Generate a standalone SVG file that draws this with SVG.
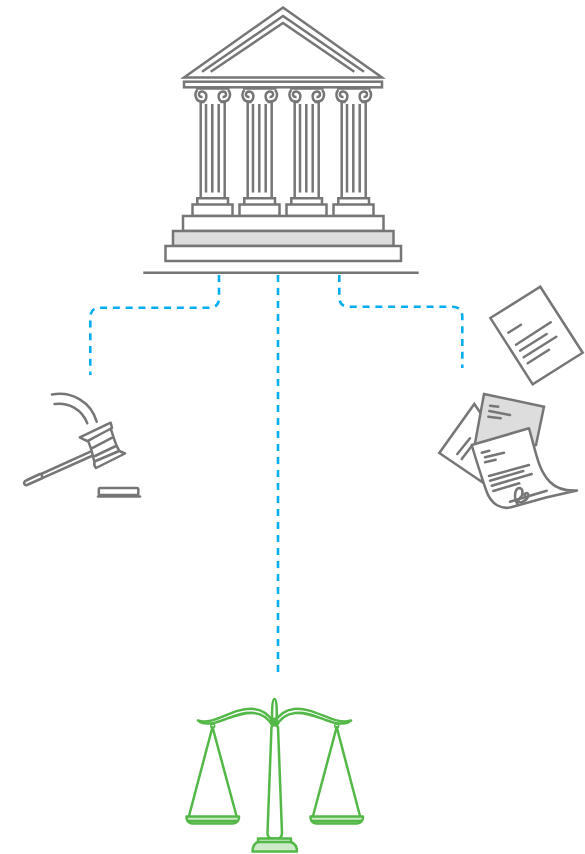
<svg xmlns="http://www.w3.org/2000/svg" xmlns:xlink="http://www.w3.org/1999/xlink" width="585" height="854" viewBox="0 0 585 854">
<style>
.g{fill:none;stroke:#767676;stroke-width:2.500;stroke-linejoin:miter}
.w{fill:#fff;stroke:#767676;stroke-width:2.500}
.s{fill:#ddd;stroke:#767676;stroke-width:2.500}
.l{fill:none;stroke:#767676;stroke-width:2.500;stroke-linecap:round}
.d{fill:none;stroke:#00aeef;stroke-width:2.600;stroke-dasharray:7 5.800}
.dc{fill:none;stroke:#00aeef;stroke-width:2.600;stroke-dasharray:7 6}
.c{fill:none;stroke:#53b848;stroke-width:2.500;stroke-linecap:round;stroke-linejoin:round}
.f{fill:#cdeac8;stroke:#53b848;stroke-width:2.500;stroke-linejoin:round}
</style>
<defs>
<g id="col">
<path class="g" d="M200.700 102V197.500M224.700 102V197.500M206 104V192.500M212.300 104V192.500M218.700 104V192.500"/>
<path class="g" d="M196 88.500H229.500M200.700 102H204.500M220.500 102H224.700"/>
<path class="g" d="M197.500 90C194 93 195 101.500 201.700 101.500C207 101.500 208.500 93 202.500 91.500C198 91 197.500 97.500 202.500 97M228 90C231.500 93 230.500 101.500 223.300 101.500C218 101.500 216.500 93 222.500 91.500C227 91 227.500 97.500 222.500 97"/>
<path class="w" d="M197.300 204V198.300H228V204"/>
<rect class="w" x="192.500" y="204.500" width="40" height="11.500"/>
</g>
</defs>
<g id="connectors">
<path class="dc" d="M278 275V672"/>
<path class="d" d="M219 275V298Q219 307.700 209 307.700H100Q90.300 307.700 90.300 318V375"/>
<path class="d" d="M339.300 275V297Q339.300 306.700 349 306.700H452Q462.300 306.700 462.300 317V368"/>
</g>
<g id="courthouse">
<path class="g" d="M184 77.500L283 7.500L382 77.500Z"/>
<path class="g" d="M202 71.700L283 16L364 71.700M210.700 71.700L283 23L354.300 71.700"/>
<rect class="g" x="184" y="81.700" width="198" height="5.600"/>
<use xlink:href="#col"/>
<use xlink:href="#col" x="47"/>
<use xlink:href="#col" x="94"/>
<use xlink:href="#col" x="141"/>
<rect class="w" x="183" y="216" width="200.500" height="15"/>
<rect class="s" x="173" y="231" width="220.500" height="15"/>
<rect class="w" x="165.500" y="246" width="235.500" height="15"/>
<path class="g" d="M143.300 272.800H418.700"/>
</g>
<g id="gavel">
<path class="l" d="M52 394.500C72 391 91 402 96.700 421.700M54.500 404C68 402 82 409 87.300 423.300"/>
<path class="w" stroke-linejoin="round" d="M92.700 450.700L40 474.500L41.700 478.300L94 455Z"/>
<path class="w" stroke-linejoin="round" d="M88 441C92 449 92.500 456 94.500 462L119.300 451C115 444 113 435 110.500 428Z"/>
<path class="l" d="M91.700 448.300L112.700 437.300M95 456L116 446"/>
<path class="w" stroke-linejoin="round" d="M79.800 437.300L110.700 422.700L112 428L87.300 441C85 440 82 438.500 79.800 437.300Z"/>
<path class="w" stroke-linejoin="round" d="M96 468L125 453.500L119.300 451L94.500 461.500C94 464 94.500 466.500 96 468Z"/>
<path class="w" stroke-linejoin="round" d="M40 474L26 480.500C23 482 24 486 27 485L41.500 478.500C43 476.500 41.500 473.500 40 474Z"/>
<rect class="w" x="98.800" y="488" width="39.500" height="7" rx="1.500"/>
<path d="M98 496.500H140" stroke="#767676" stroke-width="2.500" stroke-linecap="round" fill="none"/>
</g>
<g id="document">
<path class="g" d="M490.300 318L540.300 286.700L582.700 352.700L532.700 384.300Z"/>
<path class="l" d="M508.300 332.700L521 324.700M516 344.700L550.700 322.300M520 350.700L546.700 334M523.700 357.300L556.300 336.700M527.700 363.300L549 349.700"/>
</g>
<g id="documents">
<path class="w" d="M484 418L474.300 404L439.300 453L482 482Z"/>
<path class="l" d="M457.300 454L470 438.300M461.700 459L471.700 446"/>
<path class="s" d="M484 394L544 406.700L536 445L520 450L474.500 446Z"/>
<path class="l" d="M490 405.700L498.300 406.700M489.300 411L510 415M488.300 416.700L500.700 418.300"/>
<path class="w" stroke-linejoin="round" d="M471.700 445L529 428.300C536 452 538 470 550 482C557 489 568 491 577 490.500L546 497.500L512 507C502 510 491 505 486 490C482 478 476 460 471.700 445Z"/>
<path class="l" d="M481.700 452.700L489.300 450.700M485 457.300L504 452.700M485 462.300L495.700 459.700M489 476L529 465M490 480.700L523.300 471M491.700 485.700L531.700 474M493.300 491L519.300 483.300M510 501.700L546.700 490.700"/>
<path class="l" d="M518 505C513 497 515 489 519 488C523 488 524 494 520 498C517 501 518 503 522 502C528 500 530 494 527 493C524 493 524 497 526 497"/>
</g>
<g id="scales">
<path class="c" d="M198 720.500C214 726 232 707 254 709C264 710 270 716 274 723C278 716 284 710 294 709C316 707 334 726 351 720.500"/>
<path class="c" d="M200 722C216 729 233 711 254 713C263 714 269 719 272.500 726M349 722C333 729 316 711 295 713C286 714 280 719 276.500 726"/>
<path class="c" d="M272 723C272 712 272 699 274.500 699C277 699 277 712 276.500 723M271.500 727L267.500 833C267.500 837 270 838.500 272 838.500H277C279.500 838.500 282 837 282 833L278 727"/>
<circle cx="274.300" cy="722" r="4.500" fill="#53b848"/>
<path class="c" d="M212.500 727L189 816M212.500 727L236.500 816M336.700 727L313 816M336.700 727L360 816"/>
<circle cx="212.700" cy="726" r="2" fill="none" stroke="#53b848" stroke-width="1.500"/>
<circle cx="336.700" cy="726" r="2" fill="none" stroke="#53b848" stroke-width="1.500"/>
<path class="f" d="M186.500 816.500H239C239.500 820 237 823.500 233 823.500H192C188.500 823.500 186 820 186.500 816.500Z"/>
<path class="c" d="M188 821H237"/>
<path class="f" d="M310.500 816.500H363C363.500 820 361 823.500 357 823.500H316C312.500 823.500 310 820 310.500 816.500Z"/>
<path class="c" d="M312 821H361"/>
<path class="f" d="M258 842V838.500H291V842C295 843.500 297 846 297 851.500H252.500C252.500 846 254 843.500 258 842Z"/>
<path class="c" d="M258 842H291"/>
</g>
</svg>
